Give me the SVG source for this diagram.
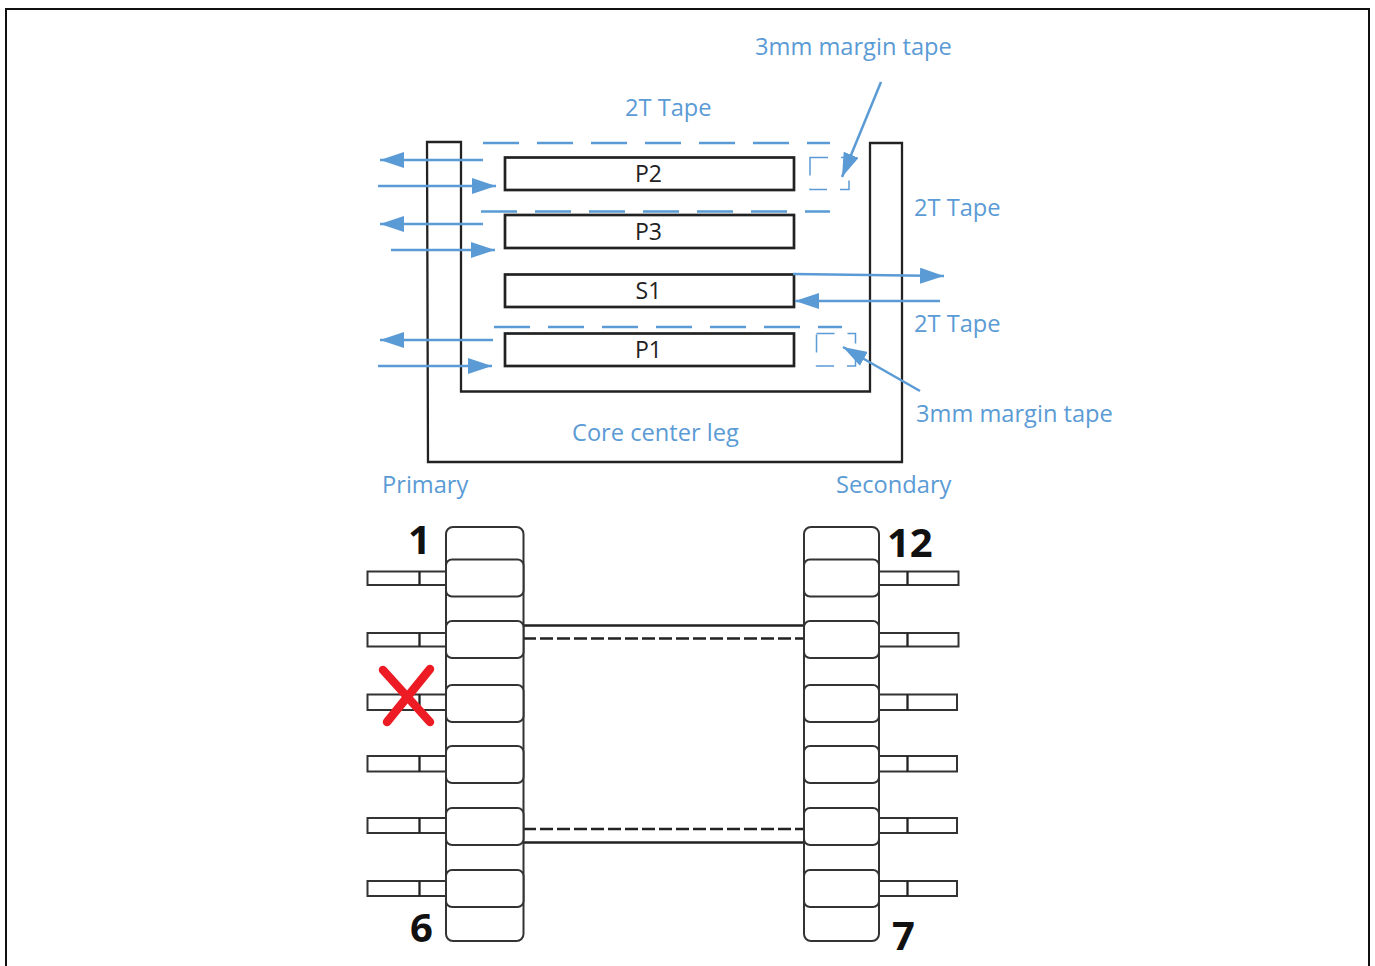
<svg xmlns="http://www.w3.org/2000/svg" width="1375" height="966" viewBox="0 0 1375 966">
<defs>
<marker id="ah" markerUnits="userSpaceOnUse" markerWidth="24" markerHeight="16" refX="24" refY="8" orient="auto"><path d="M0,0L24,8L0,16Z" fill="#5b9bd5"/></marker>
<rect id="padL" x="0" y="0" width="77.500" height="37" rx="6" fill="#fff" stroke="#333" stroke-width="2"/>
<rect id="padR" x="0" y="0" width="75" height="37" rx="6" fill="#fff" stroke="#333" stroke-width="2"/>
</defs>
<style>
.k{fill:none;stroke:#222;stroke-width:2.300}
.c{fill:#fff;stroke:#222;stroke-width:2.700}
.b{fill:none;stroke:#5b9bd5;stroke-width:2.500}
.d{stroke-dasharray:36 18}
.s{stroke-width:1.500;stroke-dasharray:18 13}
.a{marker-end:url(#ah)}
.t{font-family:"Open Sans","Noto Sans",sans-serif;font-size:23.650px;fill:#5b9bd5}
.l{font-family:"Open Sans","Noto Sans",sans-serif;font-size:23px;fill:#222;text-anchor:middle}
.n{font-family:"Open Sans","Noto Sans",sans-serif;font-size:40px;font-weight:700;fill:#111}
.p{fill:#fff;stroke:#333;stroke-width:2}
</style>
<rect width="1375" height="966" fill="#fff"/>
<path id="frame" d="M6,966V9H1369V966" fill="none" stroke="#111" stroke-width="2"/>
<g id="core"><path class="k" d="M427,142H461V391.500H870V143H902V462H428Z"/></g>
<g id="P2"><rect class="c" x="505" y="157.500" width="289" height="32.500"/><text class="l" x="648.500" y="181.500">P2</text></g>
<g id="P3"><rect class="c" x="505" y="215" width="289" height="33"/><text class="l" x="648.500" y="239.500">P3</text></g>
<g id="S1"><rect class="c" x="505" y="274.500" width="289" height="32.500"/><text class="l" x="648.500" y="298.500">S1</text></g>
<g id="P1"><rect class="c" x="505" y="333.500" width="289" height="32.500"/><text class="l" x="648.500" y="357.500">P1</text></g>
<g id="connectors">
<path class="b d" d="M483,143H830"/>
<path class="b d" d="M481,211.500H830"/>
<path class="b d" d="M494,327H842"/>
<rect class="b s" x="810" y="157.500" width="39" height="32"/>
<rect class="b s" x="816.500" y="333.500" width="39" height="32.500"/>
<path class="b a" d="M483,160H380"/>
<path class="b a" d="M378,186H496"/>
<path class="b a" d="M483,224H380"/>
<path class="b a" d="M391,250H495"/>
<path class="b a" d="M493,340H380"/>
<path class="b a" d="M378,366H492"/>
<path class="b a" d="M793,274L944,276"/>
<path class="b a" d="M940,301H795"/>
<path class="b a" d="M881,82L842,177"/>
<path class="b a" d="M920,391L843,347"/>
<path class="k" d="M523,625.500H804M523,842.500H804"/>
<path class="k" stroke-dasharray="13 4" d="M523,638.500H804M523,829H804"/>
</g>
<g id="labels">
<text class="t" x="755" y="55">3mm margin tape</text>
<text class="t" x="625" y="115.500">2T Tape</text>
<text class="t" x="914" y="215.500">2T Tape</text>
<text class="t" x="914" y="331.500">2T Tape</text>
<text class="t" x="916" y="422">3mm margin tape</text>
<text class="t" x="572" y="441">Core center leg</text>
<text class="t" x="382" y="492.500">Primary</text>
<text class="t" x="836" y="492.500">Secondary</text>
</g>
<g id="left-pins">
<rect class="p" x="367.500" y="571.500" width="78.500" height="13.500"/><path class="k" d="M419.500,571.500V585"/>
<rect class="p" x="367.500" y="633" width="78.500" height="13.500"/><path class="k" d="M419.500,633V646.500"/>
<rect class="p" x="367.500" y="694.500" width="78.500" height="15.500"/><path class="k" d="M419.500,694.500V710"/>
<rect class="p" x="367.500" y="756" width="78.500" height="15.500"/><path class="k" d="M419.500,756V771.500"/>
<rect class="p" x="367.500" y="818" width="78.500" height="15"/><path class="k" d="M419.500,818V833"/>
<rect class="p" x="367.500" y="881" width="78.500" height="15"/><path class="k" d="M419.500,881V896"/>
</g>
<g id="right-pins">
<rect class="p" x="879" y="571.500" width="79.500" height="13.500"/><path class="k" d="M907.500,571.500V585"/>
<rect class="p" x="879" y="633" width="79.500" height="13.500"/><path class="k" d="M907.500,633V646.500"/>
<rect class="p" x="879" y="694.500" width="78" height="15.500"/><path class="k" d="M907.500,694.500V710"/>
<rect class="p" x="879" y="756" width="78" height="15.500"/><path class="k" d="M907.500,756V771.500"/>
<rect class="p" x="879" y="818" width="78" height="15"/><path class="k" d="M907.500,818V833"/>
<rect class="p" x="879" y="881" width="78" height="15"/><path class="k" d="M907.500,881V896"/>
</g>
<g id="left-bobbin">
<rect x="446" y="527" width="77.500" height="414" rx="7" class="p"/>
<use href="#padL" x="446" y="559.500"/><use href="#padL" x="446" y="621"/><use href="#padL" x="446" y="685"/><use href="#padL" x="446" y="746"/><use href="#padL" x="446" y="808"/><use href="#padL" x="446" y="870"/>
</g>
<g id="right-bobbin">
<rect x="804" y="527" width="75" height="414" rx="7" class="p"/>
<use href="#padR" x="804" y="559.500"/><use href="#padR" x="804" y="621"/><use href="#padR" x="804" y="685"/><use href="#padR" x="804" y="746"/><use href="#padR" x="804" y="808"/><use href="#padR" x="804" y="870"/>
</g>
<g id="numbers">
<text class="n" x="408" y="554">1</text>
<text class="n" x="887" y="557">12</text>
<text class="n" x="410" y="942">6</text>
<text class="n" x="892" y="950">7</text>
</g>
<g id="cross"><path d="M383,670L430,722M430,669L387,722" fill="none" stroke="#ed1c24" stroke-width="8.500" stroke-linecap="round"/></g>
</svg>
